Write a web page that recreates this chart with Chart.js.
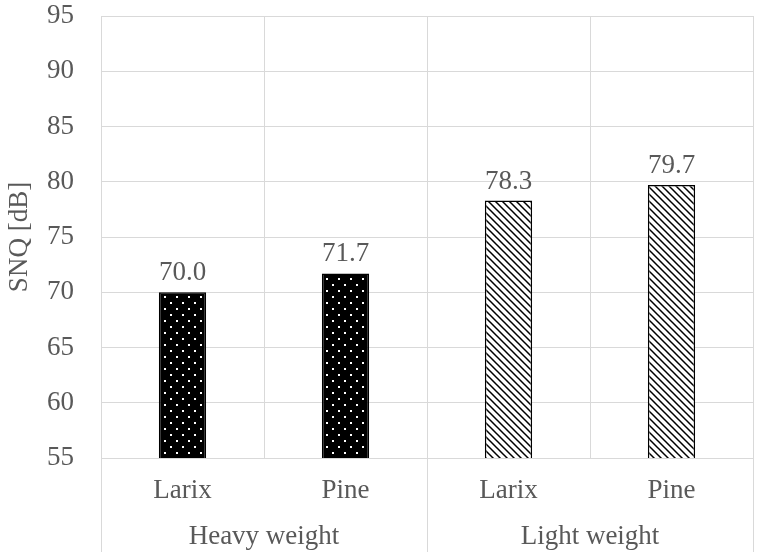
<!DOCTYPE html>
<html>
<head>
<meta charset="utf-8">
<script src="https://cdn.jsdelivr.net/npm/chart.js@4"></script>
<style>
  html, body { margin: 0; padding: 0; background: #fff; }
  #wrap { width: 758px; height: 552px; }
</style>
</head>
<body>
<div id="wrap"><canvas id="snq-chart" width="758" height="552"></canvas></div>
<script>
const species = ["Larix", "Pine", "Larix", "Pine"];
const groups = ["Heavy weight", "Light weight"];
const snqValues = [70.0, 71.7, 78.3, 79.7];
const barGroup = [0, 0, 1, 1];

const FONT = "'Liberation Serif', 'Times New Roman', serif";
const TEXT = "#595959";
const GRID = "#d9d9d9";
const SIZE = 27;

// dotted black fill for the heavy bars
function dotPattern() {
  const c = document.createElement("canvas");
  c.width = 12; c.height = 12;
  const g = c.getContext("2d");
  g.fillStyle = "#000";
  g.fillRect(0, 0, 12, 12);
  g.fillStyle = "#fff";
  g.fillRect(2, 2, 2, 2);
  g.fillRect(8, 8, 2, 2);
  return g.createPattern(c, "repeat");
}

// diagonal hatch for the light bars
function hatchPattern() {
  const s = 7;
  const c = document.createElement("canvas");
  c.width = s; c.height = s;
  const g = c.getContext("2d");
  g.fillStyle = "#fff";
  g.fillRect(0, 0, s, s);
  g.strokeStyle = "#000";
  g.lineWidth = 1.5;
  g.beginPath();
  g.moveTo(-s, 0); g.lineTo(s, 2 * s);
  g.moveTo(0, 0); g.lineTo(s, s);
  g.moveTo(0, -s); g.lineTo(2 * s, s);
  g.stroke();
  return g.createPattern(c, "repeat");
}

const fills = [dotPattern(), hatchPattern()];

const valueLabels = {
  id: "valueLabels",
  afterDatasetsDraw(chart) {
    const ctx = chart.ctx;
    const meta = chart.getDatasetMeta(0);
    ctx.save();
    ctx.font = SIZE + "px " + FONT;
    ctx.fillStyle = TEXT;
    ctx.textAlign = "center";
    ctx.textBaseline = "alphabetic";
    meta.data.forEach((bar, i) => {
      ctx.fillText(snqValues[i].toFixed(1), bar.x, bar.y - 12);
    });
    ctx.restore();
  }
};

// group separators run down through the label rows
const groupLines = {
  id: "groupLines",
  afterDraw(chart) {
    const x = chart.scales.x;
    const ctx = chart.ctx;
    const half = (x.getPixelForValue(1) - x.getPixelForValue(0)) / 2;
    const edges = [x.getPixelForValue(0) - half, x.getPixelForValue(1) + half, x.getPixelForValue(3) + half];
    ctx.save();
    ctx.strokeStyle = GRID;
    ctx.lineWidth = 1;
    edges.forEach((px) => {
      const p = Math.round(px) + 0.5;
      ctx.beginPath();
      ctx.moveTo(p, chart.chartArea.bottom);
      ctx.lineTo(p, chart.height);
      ctx.stroke();
    });
    ctx.restore();
  }
};

new Chart(document.getElementById("snq-chart").getContext("2d"), {
  type: "bar",
  data: {
    labels: species,
    datasets: [
      {
        data: snqValues,
        backgroundColor: barGroup.map((g) => fills[g]),
        borderColor: "#000",
        borderWidth: 1.5,
        categoryPercentage: 1,
        barPercentage: 0.29,
      },
    ],
  },
  options: {
    responsive: false,
    animation: false,
    devicePixelRatio: 1,
    layout: { padding: { top: 16, right: 5, left: 0, bottom: 0 } },
    plugins: { legend: { display: false }, tooltip: { enabled: false } },
    scales: {
      x: {
        grid: { offset: true, color: GRID, drawTicks: false },
        border: { color: GRID },
        ticks: { color: TEXT, font: { family: FONT, size: SIZE }, padding: 17 },
        afterFit(scale) { scale.height = 50; },
      },
      x2: {
        type: "category",
        position: "bottom",
        labels: groups,
        offset: true,
        grid: { display: false },
        border: { display: false },
        ticks: { color: TEXT, font: { family: FONT, size: SIZE }, padding: 5 },
        afterFit(scale) { scale.height = 44; },
      },
      y: {
        min: 55,
        max: 95,
        ticks: { stepSize: 5, color: TEXT, font: { family: FONT, size: SIZE }, padding: 27 },
        grid: { color: GRID, drawTicks: false },
        border: { color: GRID },
        title: {
          display: true,
          text: "SNQ [dB]",
          color: TEXT,
          font: { family: FONT, size: SIZE },
          padding: { top: 4, bottom: 0 },
        },
        afterFit(scale) {
          scale.width = 101;
          scale.paddingTop = 0;
          scale.paddingBottom = 0;
        },
      },
    },
  },
  plugins: [valueLabels, groupLines],
});
</script>
</body>
</html>
